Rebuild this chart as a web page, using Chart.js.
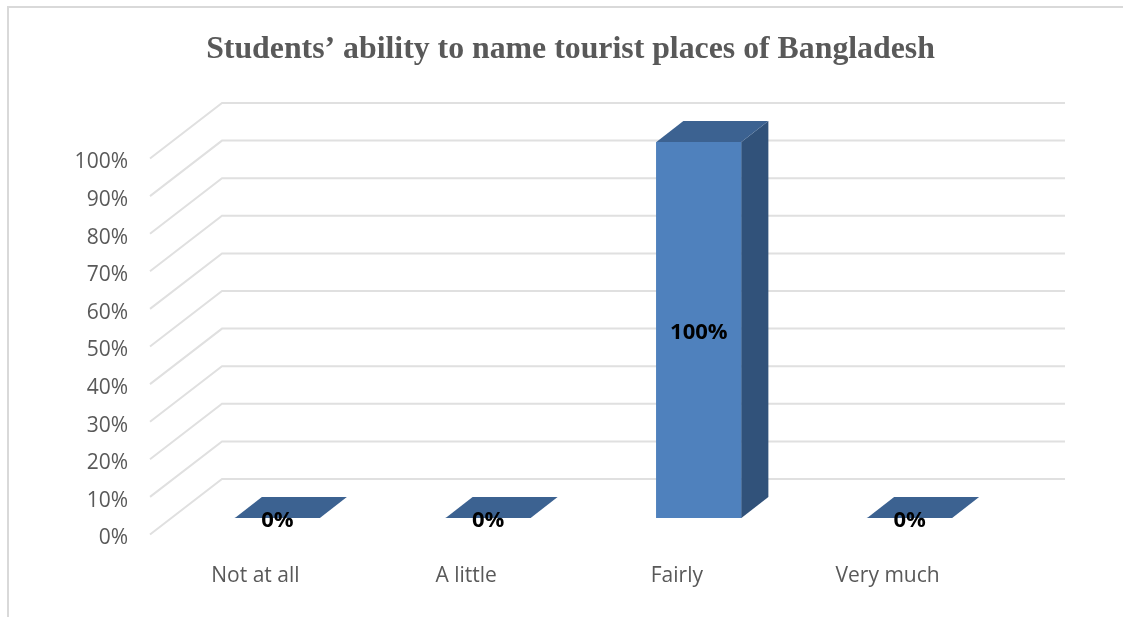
<!DOCTYPE html>
<html>
<head>
<meta charset="utf-8">
<script src="https://cdn.jsdelivr.net/npm/chart.js@4/dist/chart.umd.min.js"></script>
<style>
    html, body { margin: 0; padding: 0; background: #fff; overflow: hidden; }
    #wrap { position: relative; width: 1123px; height: 617px; }
    #frame { position: absolute; left: 7px; top: 6px; right: 0; bottom: 0; border-top: 2px solid #d9d9d9; border-left: 2px solid #d9d9d9; }
    canvas { position: absolute; left: 0; top: 0; }
</style>
</head>
<body>
<div id="wrap">
    <div id="frame"></div>
    <canvas id="chart" width="1123" height="617"></canvas>
</div>
<script>
const titleText = 'Students’ ability to name tourist places of Bangladesh';
const categories = ['Not at all', 'A little', 'Fairly', 'Very much'];
const percentValues = [0, 0, 100, 0];
const yTickValues = [0, 10, 20, 30, 40, 50, 60, 70, 80, 90, 100];

// depth of the fake 3D box
const wallDx = 72, wallDy = -55.5;
const barShiftX = 22, barShiftY = -16.5;
const barDepthX = 27, barDepthY = -21;
const barWidth = 85;

const frontColor = '#4f81bd';
const topColor = '#3c6291';
const sideColor = '#31527a';
const gridColor = '#e0e0e0';

function polygon(ctx, points, color) {
    ctx.fillStyle = color;
    ctx.beginPath();
    points.forEach((p, i) => i ? ctx.lineTo(p[0], p[1]) : ctx.moveTo(p[0], p[1]));
    ctx.closePath();
    ctx.fill();
}

const box3d = {
    id: 'box3d',
    beforeDatasetsDraw(chart) {
        const { ctx, chartArea, scales } = chart;
        ctx.save();
        // title sits over the whole picture, not over the plot
        ctx.fillStyle = '#595959';
        ctx.font = 'bold 31.8px "Liberation Serif"';
        ctx.textAlign = 'center';
        ctx.textBaseline = 'middle';
        ctx.fillText(titleText, 570.5, 50);

        ctx.strokeStyle = gridColor;
        ctx.lineWidth = 2;
        yTickValues.forEach(v => {
            const y = scales.y.getPixelForValue(v);
            ctx.beginPath();
            ctx.moveTo(chartArea.left, y);
            ctx.lineTo(chartArea.left + wallDx, y + wallDy);
            ctx.lineTo(chartArea.right + wallDx, y + wallDy);
            ctx.stroke();
        });
        ctx.restore();
    },
    // the native bar is the front face, moved into the box
    beforeDatasetDraw(chart) {
        chart.ctx.save();
        chart.ctx.translate(barShiftX, barShiftY);
    },
    afterDatasetDraw(chart) {
        chart.ctx.restore();
    },
    afterDatasetsDraw(chart) {
        const { ctx, scales } = chart;
        ctx.save();
        percentValues.forEach((v, i) => {
            const left = scales.x.getPixelForValue(i) + barShiftX - barWidth / 2;
            const right = left + barWidth;
            const top = scales.y.getPixelForValue(v) + barShiftY;
            const bottom = scales.y.getPixelForValue(0) + barShiftY;
            if (v > 0) {
                polygon(ctx, [[right, top], [right + barDepthX, top + barDepthY], [right + barDepthX, bottom + barDepthY], [right, bottom]], sideColor);
            }
            polygon(ctx, [[left, top], [left + barDepthX, top + barDepthY], [right + barDepthX, top + barDepthY], [right, top]], topColor);

            ctx.fillStyle = '#000';
            ctx.font = 'bold 22px "Open Sans"';
            ctx.textAlign = 'center';
            ctx.textBaseline = 'middle';
            ctx.fillText(v + '%', left + barWidth / 2, (top + bottom) / 2 + 3);
        });
        ctx.restore();
    }
};

new Chart(document.getElementById('chart'), {
    type: 'bar',
    data: {
        labels: categories,
        datasets: [{
            data: percentValues,
            backgroundColor: frontColor,
            borderWidth: 0,
            barThickness: barWidth
        }]
    },
    options: {
        responsive: false,
        animation: false,
        layout: { padding: { left: 0, right: 130, top: 158.5, bottom: 0 } },
        plugins: {
            legend: { display: false },
            tooltip: { enabled: false },
            title: { display: false }
        },
        scales: {
            x: {
                grid: { display: false },
                border: { display: false },
                ticks: {
                    color: '#595959',
                    font: { family: '"Open Sans"', size: 21 },
                    padding: 21,
                    maxRotation: 0
                },
                afterFit(scale) { scale.height = 82.5; }
            },
            y: {
                min: 0,
                max: 100,
                grid: { display: false },
                border: { display: false },
                afterBuildTicks(scale) { scale.ticks = yTickValues.map(value => ({ value })); },
                ticks: {
                    color: '#595959',
                    font: { family: '"Open Sans"', size: 21 },
                    padding: 14,
                    labelOffset: 4,
                    callback: v => v + '%'
                },
                afterFit(scale) { scale.width = 150; }
            }
        }
    },
    plugins: [box3d]
});
</script>
</body>
</html>
